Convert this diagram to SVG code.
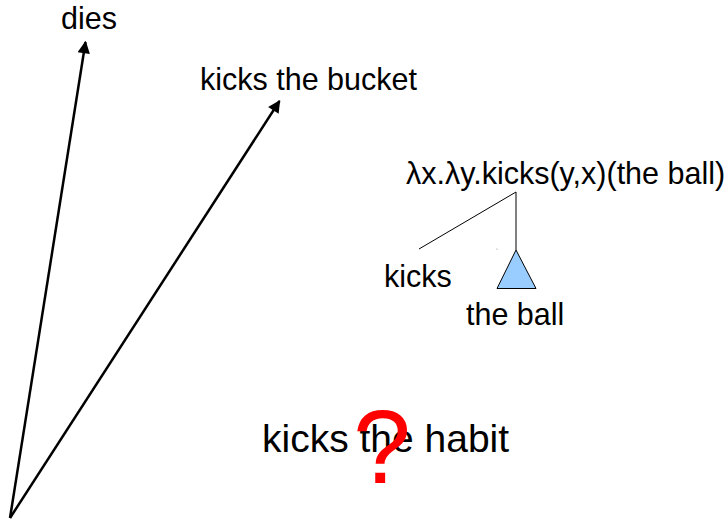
<svg xmlns="http://www.w3.org/2000/svg" width="727" height="521" viewBox="0 0 727 521">
<defs>
<style>
.t{font-family:"Liberation Sans",Arial,sans-serif;fill:#000}
.ar{stroke:#000;stroke-width:2.5;fill:none}
.tl{stroke:#000;stroke-width:1;fill:none}
</style>
<marker id="ah" viewBox="0 0 10 10" refX="9" refY="5" markerWidth="7" markerHeight="5" markerUnits="strokeWidth" orient="auto">
<path d="M0,0 L10,5 L0,10 z" fill="#000"/>
</marker>
</defs>
<rect width="727" height="521" fill="#fff"/>
<g id="connectors">
<line class="ar" x1="10" y1="518" x2="85.5" y2="42" marker-end="url(#ah)"/>
<line class="ar" x1="10" y1="518" x2="279.5" y2="101" marker-end="url(#ah)"/>
<line class="tl" x1="516" y1="192" x2="419" y2="249"/>
<line class="tl" x1="516" y1="192" x2="516" y2="250"/>
</g>
<g id="dies"><text class="t" x="89" y="29" font-size="30.5" text-anchor="middle">dies</text></g>
<g id="kicks-the-bucket"><text class="t" x="200" y="90" font-size="30.5">kicks the bucket</text></g>
<g id="lambda"><text class="t" x="406" y="184" font-size="30.5">λx.λy.kicks(y,x)(the ball)</text></g>
<g id="kicks"><text class="t" x="384" y="287" font-size="30.5">kicks</text></g>
<g id="the-ball-triangle">
<polygon points="516,250 497,288.5 536,288.5" fill="#99ccff" stroke="#000" stroke-width="1"/>
<circle cx="497" cy="249" r="0.6" fill="#888"/>
</g>
<g id="the-ball"><text class="t" x="466" y="325" font-size="30.5">the ball</text></g>
<g id="kicks-the-habit">
<text class="t" x="262" y="452" font-size="39">kicks the habit</text>
<text x="382" y="483" font-size="104" text-anchor="middle" fill="#ff0000" font-family="Liberation Sans,Arial,sans-serif">?</text>
</g>
</svg>
